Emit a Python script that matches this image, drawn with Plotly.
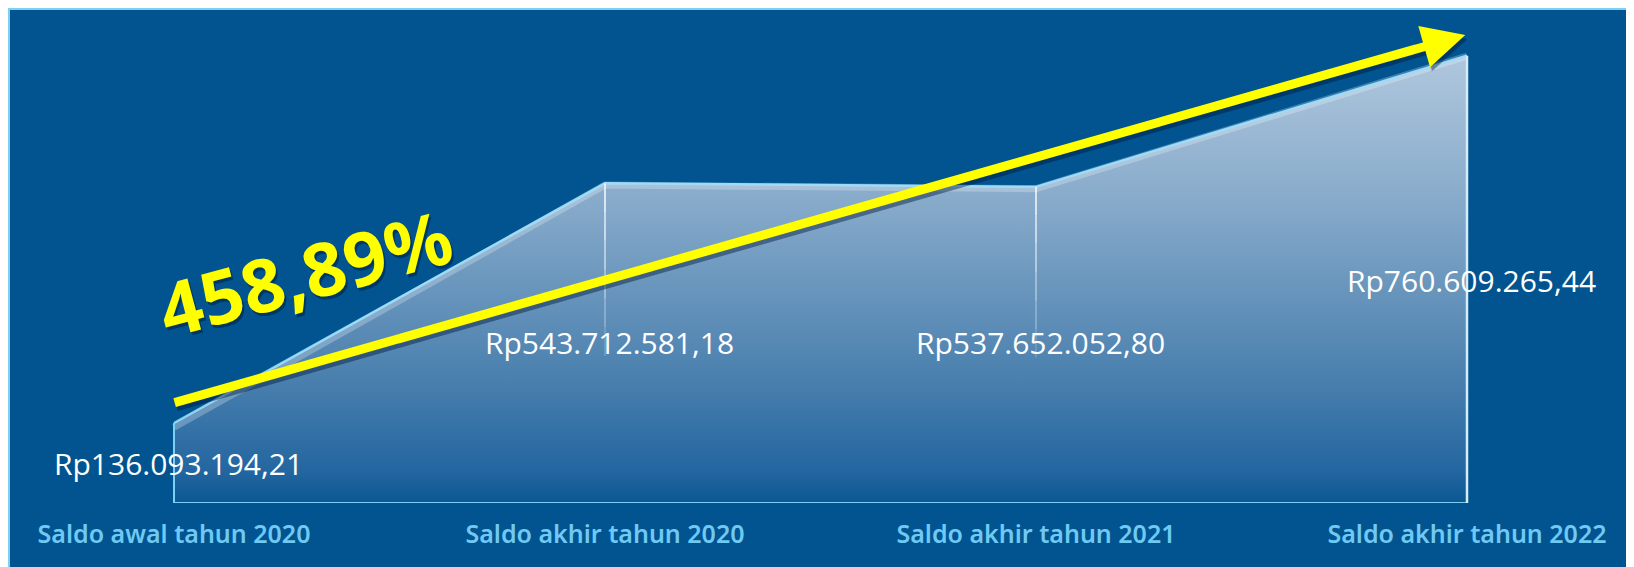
import plotly.graph_objects as go

# --- DATA ---
categories = ["Saldo awal tahun 2020", "Saldo akhir tahun 2020",
              "Saldo akhir tahun 2021", "Saldo akhir tahun 2022"]
saldo = [136093194.21, 543712581.18, 537652052.80, 760609265.44]
saldo_labels = ["Rp136.093.194,21", "Rp543.712.581,18",
                "Rp537.652.052,80", "Rp760.609.265,44"]
growth_label = "458,89%"

# --- STYLE ---
W, H = 1634, 567
PAGE_OFF = 8                     # browser body margin around the plot div
BG = "#01548F"
EDGE = "#7FCFF4"
LABEL_BLUE = "#6FC9F2"
YELLOW = "#FFFF00"

BASE_PX = 503                    # page y of the zero line
ML, MR, MT = 2, 10, 4
MB = H - (BASE_PX - PAGE_OFF)
PW, PH = W - ML - MR, H - MT - MB
PX_PER_CAT = 431
PX_PER_UNIT = 0.588e-6           # pixels per rupiah
X0_PX = 174                      # page x of first category
x_lo = -((X0_PX - PAGE_OFF) - ML) / PX_PER_CAT
x_range = [x_lo, x_lo + PW / PX_PER_CAT]
y_range = [0, PH / PX_PER_UNIT]


# page pixel -> paper coords
def paper_x(px):
    return (px - PAGE_OFF - ML) / PW


def paper_y(py):
    return (BASE_PX - py) / PH


fig = go.Figure()

# main area with vertical gradient
fig.add_trace(go.Scatter(
    x=categories, y=saldo, mode="lines", fill="tozeroy",
    fillgradient=dict(
        type="vertical", start=0, stop=max(saldo),
        colorscale=[[0, "#0A5793"], [0.07, "#2366A0"], [0.28, "#4A80AE"],
                    [0.68, "#88ABCB"], [1, "#AFC7DD"]]),
    line=dict(color=EDGE, width=2.5),
    hoverinfo="skip", showlegend=False,
))

# light bevel just under the top edge (same data on a slightly shifted axis)
BEVEL_PX = 5
fig.add_trace(go.Scatter(
    x=categories, y=saldo, mode="lines", yaxis="y2",
    line=dict(color="rgba(255,255,255,0.25)", width=7),
    hoverinfo="skip", showlegend=False,
))

shapes = []
# frame
shapes.append(dict(type="rect", xref="paper", yref="paper", layer="below",
                   x0=paper_x(PAGE_OFF + 1), x1=paper_x(W + 20),
                   y0=paper_y(H + 20), y1=paper_y(PAGE_OFF + 1),
                   fillcolor=BG, line=dict(color=EDGE, width=2)))
# bottom / left / right edges of the area
shapes.append(dict(type="line", xref="x", yref="y", x0=0, x1=len(categories) - 1,
                   y0=0, y1=0, line=dict(color=EDGE, width=2)))
shapes.append(dict(type="line", xref="x", yref="y", x0=0, x1=0,
                   y0=0, y1=saldo[0], line=dict(color=EDGE, width=2)))
shapes.append(dict(type="line", xref="x", yref="y", x0=len(saldo) - 1, x1=len(saldo) - 1,
                   y0=0, y1=saldo[-1], line=dict(color="#D6ECF8", width=2.5)))
# fading drop lines on the middle points
for i in range(1, len(saldo) - 1):
    steps = 6
    for k in range(steps):
        top = saldo[i] * (1 - 0.09 * k)
        bot = saldo[i] * (1 - 0.09 * (k + 1))
        shapes.append(dict(type="line", xref="x", yref="y", x0=i, x1=i, y0=bot, y1=top,
                           line=dict(color=f"rgba(255,255,255,{0.7 - 0.11 * k:.2f})", width=2)))

annotations = []
# value labels (page pixel centres)
label_pos = [(178, 463), (609, 343), (1040, 343), (1471, 280)]
for txt, (px, py) in zip(saldo_labels, label_pos):
    annotations.append(dict(
        x=paper_x(px), y=paper_y(py), xref="paper", yref="paper",
        text=txt, showarrow=False, xanchor="center", yanchor="middle",
        font=dict(family="Open Sans, sans-serif", size=30, color="white"),
    ))

# yellow growth arrow + shadow
ARROW_TAIL = (-0.002, 170e6)
ARROW_TIP = (2.996, 796e6)
for color, dx, dy in [("rgba(0,25,60,0.45)", 2, -4), (YELLOW, 0, 0)]:
    annotations.append(dict(
        x=ARROW_TIP[0], y=ARROW_TIP[1], ax=ARROW_TAIL[0], ay=ARROW_TAIL[1],
        xref="x", yref="y", axref="x", ayref="y", text="",
        showarrow=True, arrowhead=2, arrowsize=0.95, arrowwidth=9,
        arrowcolor=color, standoff=0, xshift=dx, yshift=dy,
    ))

# growth percentage, rotated
for color, dx, dy in [("rgba(0,25,60,0.5)", 2, -3), (YELLOW, 0, 0)]:
    annotations.append(dict(
        x=paper_x(304), y=paper_y(272), xref="paper", yref="paper",
        text=f"<b>{growth_label}</b>", showarrow=False, textangle=-15,
        xanchor="center", yanchor="middle", xshift=dx, yshift=dy,
        font=dict(family="Noto Sans, sans-serif", size=74, color=color),
    ))

fig.update_layout(
    width=W, height=H,
    margin=dict(l=ML, r=MR, t=MT, b=MB),
    paper_bgcolor="white",
    plot_bgcolor="rgba(0,0,0,0)",
    showlegend=False,
    xaxis=dict(
        type="category", range=x_range, showgrid=False, zeroline=False,
        showline=False, ticks="", ticklabelstandoff=14,
        tickfont=dict(family="Noto Sans, sans-serif", size=25, color=LABEL_BLUE, weight=600),
    ),
    yaxis=dict(range=y_range, visible=False, fixedrange=True),
    yaxis2=dict(
        overlaying="y", domain=[0, 1 - BEVEL_PX / PH], visible=False,
        range=[BEVEL_PX / PX_PER_UNIT, BEVEL_PX / PX_PER_UNIT + (PH - BEVEL_PX) / PX_PER_UNIT],
    ),
    shapes=shapes,
    annotations=annotations,
)

fig.write_html("out.html")
